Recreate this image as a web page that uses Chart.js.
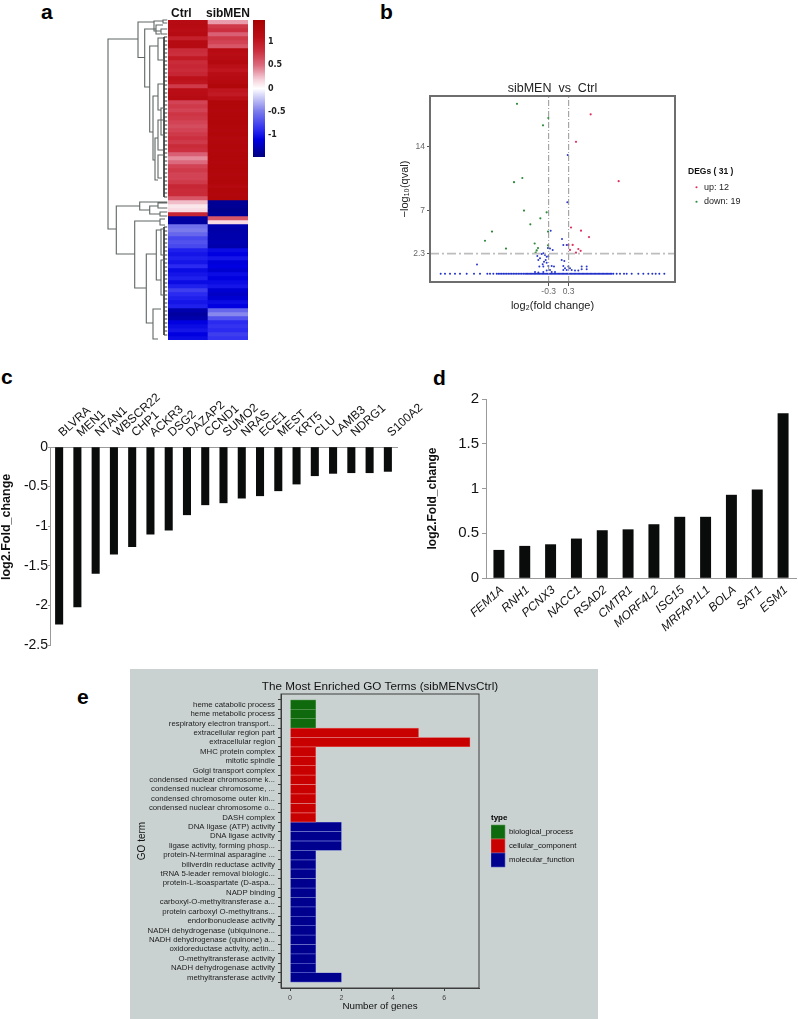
<!DOCTYPE html>
<html><head><meta charset="utf-8">
<script src="https://cdn.jsdelivr.net/npm/chart.js@4"></script>
<style>
html,body{margin:0;padding:0;background:#fff;width:798px;height:1019px;overflow:hidden}
#root{position:relative;width:798px;height:1019px}
canvas{position:absolute;display:block;filter:blur(.35px)}
.tag{position:absolute;font:bold 21px "Liberation Sans",sans-serif;color:#000;line-height:21px}
#goBg{position:absolute;left:130px;top:669px;width:468px;height:350px;background:#cad2d1}
</style></head><body><div id="root"><div id="goBg"></div>
<div class="tag" style="left:41px;top:1px">a</div>
<div class="tag" style="left:380px;top:1px">b</div>
<div class="tag" style="left:1px;top:366px">c</div>
<div class="tag" style="left:433px;top:367px">d</div>
<div class="tag" style="left:77px;top:686px">e</div>
</div>
<script>
// ---------- panel a
const heatCols=['Ctrl','sibMEN'];
const heatCtrl=[1.2,1.2,1.15,1.2,.95,1.2,1.2,.85,.82,1.0,.85,.88,.85,.9,1.08,1.05,.75,1.12,1.15,1.2,.7,.75,.7,.78,.75,.7,.65,.7,.75,.8,.75,.85,.8,.55,.4,.5,.7,.75,.7,.7,.75,.88,.85,.85,.6,.25,.1,.15,.9,-1.35,-1.35,-.55,-.5,-.6,-.75,-.7,-.75,-.95,-1.0,-.95,-1.0,-.9,-1.05,-1.0,-.95,-1.05,-.95,-.8,-.9,-.95,-1.0,-.95,-1.3,-1.35,-1.3,-1.1,-1.05,-1.0,-1.1,-1.05];
const heatSib=[.35,.75,.8,.55,.75,.7,.6,1.2,1.15,1.2,1.25,1.1,1.05,1.15,1.2,1.25,1.3,1.05,1.0,1.1,1.3,1.3,1.28,1.3,1.3,1.32,1.3,1.28,1.3,1.26,1.28,1.3,1.28,1.3,1.3,1.28,1.3,1.3,1.28,1.3,1.3,1.25,1.3,1.28,1.3,-1.4,-1.4,-1.42,-1.4,.6,.15,-1.3,-1.32,-1.3,-1.3,-1.28,-1.3,-1.05,-1.1,-1.0,-1.12,-1.1,-1.15,-1.05,-1.1,-1.05,-1.0,-1.15,-1.2,-1.15,-1.05,-1.1,-.6,-.45,-.7,-.9,-.85,-.9,-.8,-.85];
const cbRange=[-1.48,1.48];
const cbTicks=[1,.5,0,-.5,-1];
const dendBrackets=[[0,19,209,30,8.3],[30,2,37.5,46,36.7],[46,1,11,55,53],[55,0,3,59.3,59.3],[53,9,14,59.3,59.3],[36.7,9,67,48,41.7],[48,5,14,55,52],[41.7,26,112,50,45],[50,18,40,55,56],[45,76,140,50,47],[50,64,90,55,53],[53,88,115,57,56],[47,118,160,50,50],[50,135,158,56,54],[50,100,130,55,55],[8.3,186,234,31.7,26.7],[31.7,182,190,59.3,41.7],[41.7,186,194,50,52],[50,183,188,59.3,59.3],[52,192,196,59.3,59.3],[26.7,201,268,52,38.3],[52,199,205,57,57],[38.3,234,303,48.3,45],[48.3,210,260,53,53],[45,289,319,53,50],[53,209,235,57,57],[53,240,275,57,57]];
const dendLeaves=[17,21,25,29,33,37,41,45,49,53,57,61,65,69,73,77,81,85,89,93,97,101,105,109,113,117,121,125,129,133,137,141,145,149,153,157,161,165,169,173,177,207,211,215,219,223,227,231,235,239,243,247,251,255,259,263,267,271,275,279,283,287,291,295,299,303,307,311,315];
// ---------- panel b
const upPts=[[.96,17.5],[.52,14.5],[1.80,10.2],[.37,5.15],[.67,4.8],[.91,4.1],[.29,3.25],[.42,3.25],[.34,2.7],[.59,2.8],[.66,2.6],[.52,2.4]];
const downPts=[[-1.25,18.65],[-.31,17.1],[-.47,16.3],[-1.09,10.55],[-1.34,10.1],[-1.04,7.0],[-.36,6.8],[-.55,6.15],[-.85,5.5],[-.32,4.7],[-2.0,4.7],[-2.21,3.7],[-1.58,2.85],[-.72,3.4],[-.62,2.9],[-.66,2.65],[-.69,2.4],[-.32,3.2],[-.31,2.9]];
const nsPts=[[.27,13.05],[.26,7.9],[-.24,4.8],[.10,3.9],[.14,3.25],[.24,3.25],[-.32,2.9],[-.26,2.85],[-.18,2.7],[-2.45,1.1],[-.46,2.35],[-.51,2.25],[-.41,2.15],[-.64,2.05],[-.56,1.8],[-.61,1.6],[-.36,1.95],[-.31,2.0],[-.39,1.6],[-.44,1.4],[-.36,1.3],[-.48,1.15],[-.58,.9],[-.46,.9],[-.31,.95],[-.21,.95],[-.14,.9],[-.71,.3],[-.61,.25],[-.46,.3],[-.36,.45],[-.26,.5],[-.21,.3],[-.11,.3],[.09,1.6],[.17,1.5],[.14,.95],[.19,.7],[.29,.9],[.34,.7],[.14,.5],[.24,.5],[.39,.5],[.49,.45],[.69,.9],[.84,.9],[.84,.6],[.69,.6],[.59,.45]];
const nsBaseX=[-3.54,-3.41,-3.26,-3.11,-2.96,-2.76,-2.54,-2.36,-2.14,-2.06,-1.96,-1.86,-1.81,-1.76,-1.71,-1.66,-1.61,-1.56,-1.51,-1.46,-1.41,-1.36,-1.31,-1.26,-1.21,-1.16,-1.11,-1.06,-1.01,-.97,-.93,-.89,-.85,-.81,-.77,-.73,-.69,-.65,-.61,-.57,-.53,-.49,-.45,-.41,-.37,-.33,-.29,-.25,-.21,-.17,-.13,-.09,-.05,-.01,.03,.07,.11,.15,.19,.23,.27,.31,.35,.39,.43,.47,.51,.55,.59,.63,.67,.71,.75,.79,.83,.87,.91,.95,.99,1.03,1.07,1.11,1.15,1.19,1.23,1.27,1.31,1.35,1.39,1.43,1.47,1.51,1.55,1.59,1.64,1.74,1.84,1.96,2.04,2.19,2.39,2.54,2.69,2.81,2.91,3.02,3.17];
const nsBaseY=[.1];
const volcXTicks=[-.3,.3];
const volcYTicks=[2.3,7,14];
const qThreshold=[2.3];
// ---------- panel c
const downGenes=['BLVRA','MEN1','NTAN1','WBSCR22','CHP1','ACKR3','DSG2','DAZAP2','CCND1','SUMO2','NRAS','ECE1','MEST','KRT5','CLU','LAMB3','NDRG1','','S100A2'];
const downFC=[-2.236,-2.02,-1.595,-1.354,-1.257,-1.10,-1.05,-.856,-.73,-.705,-.646,-.616,-.553,-.468,-.363,-.333,-.325,-.325,-.308];
// ---------- panel d
const upGenes=['FEM1A','RNH1','PCNX3','NACC1','RSAD2','CMTR1','MORF4L2','ISG15','MRFAP1L1','BOLA','SAT1','ESM1'];
const upFC=[.31,.355,.373,.437,.53,.54,.597,.68,.68,.926,.985,1.836];
// ---------- panel e
const goBP=['heme catabolic process','heme metabolic process','respiratory electron transport...'];
const goBPn=[1,1,1];
const goCC=['extracellular region part','extracellular region','MHC protein complex','mitotic spindle','Golgi transport complex','condensed nuclear chromosome k...','condensed nuclear chromosome, ...','condensed chromosome outer kin...','condensed nuclear chromosome o...','DASH complex'];
const goCCn=[5,7,1,1,1,1,1,1,1,1];
const goMF=['DNA ligase (ATP) activity','DNA ligase activity','ligase activity, forming phosp...','protein-N-terminal asparagine ...','biliverdin reductase activity','tRNA 5-leader removal biologic...','protein-L-isoaspartate (D-aspa...','NADP binding','carboxyl-O-methyltransferase a...','protein carboxyl O-methyltrans...','endoribonuclease activity','NADH dehydrogenase (ubiquinone...','NADH dehydrogenase (quinone) a...','oxidoreductase activity, actin...','O-methyltransferase activity','NADH dehydrogenase activity','methyltransferase activity'];
const goMFn=[2,2,2,1,1,1,1,1,1,1,1,1,1,1,1,1,2];
const goXTicks=[0,2,4,6];

Chart.defaults.font.family='"Liberation Sans",Arimo,Helvetica,Arial,sans-serif';
Chart.defaults.animation=false;
Chart.defaults.responsive=false;
Chart.defaults.maintainAspectRatio=false;
Chart.defaults.devicePixelRatio=1;
Chart.defaults.plugins.legend.display=false;
Chart.defaults.plugins.tooltip.enabled=false;

const root=document.getElementById('root');
function mk(left,top,w,h,cfg){
  const c=document.createElement('canvas');c.width=w;c.height=h;
  c.style.left=left+'px';c.style.top=top+'px';c.style.width=w+'px';c.style.height=h+'px';
  root.appendChild(c);return new Chart(c,cfg);
}
const zero=s=>{s.paddingLeft=s.paddingRight=s.paddingTop=s.paddingBottom=0};
const fixW=w=>s=>{s.width=w;zero(s)};
const fixH=h=>s=>{s.height=h;zero(s)};
const frame=color=>({id:'frame',afterDatasetsDraw(c){const a=c.chartArea,x=c.ctx;x.save();x.strokeStyle=color.c;x.lineWidth=color.w;x.strokeRect(a.left,a.top,a.right-a.left,a.bottom-a.top);x.restore();}});
const placeLegend={id:'placeLegend',afterLayout(c,_a,o){const L=c.legend;if(!L||o.x===undefined)return;L.left=o.x;L.top=o.y;L.right=o.x+o.w;L.bottom=o.y+o.h;L.width=o.w;L.height=o.h;}};
const widenTitle={id:'widenTitle',afterLayout(c,_a,o){const T=c.titleBlock;if(!T||!o.by)return;T.left-=o.by;T.right+=o.by;T.width+=2*o.by;}};

// colour map
const stops=[[-1.48,[0,0,128]],[-1.1,[0,0,224]],[-.9,[42,42,240]],[-.5,[122,122,236]],[0,[255,255,255]],[.2,[245,206,216]],[.5,[220,106,126]],[.8,[204,48,64]],[1.1,[187,15,24]],[1.48,[168,0,0]]];
function col(v){
  for(let i=1;i<stops.length;i++){if(v<=stops[i][0]){const a=stops[i-1],b=stops[i],t=Math.max(0,(v-a[0])/(b[0]-a[0]));
    return 'rgb('+a[1].map((q,k)=>Math.round(q+(b[1][k]-q)*t)).join(',')+')';}}
  return 'rgb(168,0,0)';
}
// --- a: dendrogram
const dendPts=[];
dendBrackets.forEach(b=>{dendPts.push({x:b[3],y:b[1]},{x:b[0],y:b[1]},{x:b[0],y:b[2]},{x:b[4],y:b[2]},{x:NaN,y:NaN});});
const leafPts=[];
dendLeaves.forEach((y,i)=>{leafPts.push({x:59.3,y:y},{x:56,y:y},{x:56,y:dendLeaves[i+1]!==undefined&&dendLeaves[i+1]-y<8?dendLeaves[i+1]:y},{x:NaN,y:NaN});});
mk(106,19,64,322,{type:'scatter',data:{datasets:[
  {data:dendPts,showLine:true,spanGaps:false,borderColor:'#5e6664',borderWidth:1.1,pointRadius:0,clip:false},
  {data:leafPts,showLine:true,spanGaps:false,borderColor:'#3a3f3e',borderWidth:1,pointRadius:0,clip:false}]},
  options:{layout:{padding:{left:2,right:2,top:1,bottom:1}},scales:{x:{type:'linear',min:0,max:60,display:false},y:{type:'linear',min:0,max:320,reverse:true,display:false}}}});
// --- a: heat
const heatSets=heatCtrl.map((v,i)=>({data:[1,1],backgroundColor:[col(v),col(heatSib[i])],barPercentage:1,categoryPercentage:1,borderWidth:0}));
const heatChart=mk(148,0,110,340,{type:'bar',data:{labels:heatCols,datasets:heatSets},options:{
  layout:{padding:{left:20,right:10,top:0,bottom:0}},
  scales:{x:{stacked:true,position:'top',afterFit:fixH(20),border:{display:false},grid:{display:false,drawTicks:false},
      ticks:{padding:-1,maxRotation:0,minRotation:0,autoSkip:false,color:'#111',font:{size:12,weight:'bold'},callback:(v,i)=>i===0?heatCols[0]+'    ':heatCols[i]}},
    y:{stacked:true,min:0,max:80,reverse:true,display:false}}}});
heatChart.canvas.style.filter='blur(.6px)';
// --- a: colour bar
mk(253,20,50,137,{type:'bar',data:{labels:['scale'],datasets:[{data:[cbRange],barPercentage:1,categoryPercentage:1,borderWidth:0,
   backgroundColor:c=>{const a=c.chart.chartArea;if(!a)return '#fff';const g=c.chart.ctx.createLinearGradient(0,a.bottom,0,a.top);stops.forEach(s=>g.addColorStop((s[0]-stops[0][0])/(stops[stops.length-1][0]-stops[0][0]),'rgb('+s[1].join(',')+')'));return g;}}]},
  options:{layout:{padding:0},scales:{x:{display:false},
   y:{position:'right',min:cbRange[0],max:cbRange[1],afterFit:fixW(38),afterBuildTicks:s=>{s.ticks=cbTicks.map(v=>({value:v}))},border:{display:false},grid:{display:false,drawTicks:false},
      ticks:{padding:3,autoSkip:false,color:'#222',font:{family:'"DejaVu Sans"',size:8,weight:'bold'},callback:v=>String(v)}}}}});
// --- b
const vline=x=>({type:'line',data:[{x:x,y:-.8},{x:x,y:19.5}],borderColor:'#8a8a8a',borderWidth:.9,borderDash:[6,2,1,2],pointRadius:0,label:'x'});
mk(395,78,403,240,{type:'scatter',data:{datasets:[
   {type:'line',label:'threshold',data:[{x:-3.86,y:qThreshold[0]},{x:3.49,y:qThreshold[0]}],borderColor:'#bdbdbd',borderWidth:1.6,borderDash:[9,3,2,3],pointRadius:0},
   vline(volcXTicks[0]),vline(volcXTicks[1]),
   {label:'baseline',data:nsBaseX.map(x=>({x:x,y:nsBaseY[0]})),backgroundColor:'#2030c8',pointRadius:1,borderWidth:0},
   {label:'ns',data:nsPts.map(p=>({x:p[0],y:p[1]})),backgroundColor:'#2a3acb',pointRadius:1,borderWidth:0},
   {label:'up: 12',data:upPts.map(p=>({x:p[0],y:p[1]})),backgroundColor:'#e0305f',pointStyle:'circle',pointRadius:1.1,borderWidth:0},
   {label:'down: 19',data:downPts.map(p=>({x:p[0],y:p[1]})),backgroundColor:'#2f8a3c',pointStyle:'circle',pointRadius:1.1,borderWidth:0}]},
  options:{layout:{padding:{left:0,right:123,top:0,bottom:0}},
   plugins:{title:{display:true,fullSize:false,text:'sibMEN  vs  Ctrl',color:'#222',font:{size:12.5,weight:'normal',lineHeight:'14px'},padding:{top:4,bottom:0}},
     legend:{display:true,position:'chartArea',align:'start',
       title:{display:true,position:'start',text:'DEGs ( 31 )',color:'#111',font:{size:8.5,weight:'bold'},padding:{top:0,bottom:0}},
       labels:{usePointStyle:true,boxWidth:6,boxHeight:1.5,padding:5.5,color:'#222',font:{size:9},filter:i=>i.text==='up: 12'||i.text==='down: 19'}},
     placeLegend:{x:293,y:89,w:105,h:60}},
   scales:{x:{type:'linear',min:-3.86,max:3.49,afterFit:fixH(36),afterBuildTicks:s=>{s.ticks=volcXTicks.map(v=>({value:v}))},border:{color:'#777',width:1},
        grid:{display:true,drawOnChartArea:false,tickLength:4,color:'#555'},
        ticks:{padding:1,autoSkip:false,maxRotation:0,color:'#666',font:{size:8.5},callback:v=>String(v)},
        title:{display:true,text:'log₂(fold change)',color:'#222',font:{size:11,lineHeight:'13px'},padding:{top:0,bottom:6}}},
     y:{type:'linear',min:-.8,max:19.5,afterFit:fixW(35),afterBuildTicks:s=>{s.ticks=volcYTicks.map(v=>({value:v}))},border:{color:'#777',width:1},
        grid:{display:true,drawOnChartArea:false,tickLength:3,color:'#555'},
        ticks:{padding:2,autoSkip:false,color:'#666',font:{size:8.5},callback:v=>String(v)},
        title:{display:true,text:'−log₁₀(qval)',color:'#222',font:{size:11,lineHeight:'13px'},padding:{top:3,bottom:0}}}}},
  plugins:[frame({c:'#6e6e6e',w:2}),placeLegend]});
// --- c
mk(0,375,440,280,{type:'bar',data:{labels:downGenes,datasets:[{data:downFC,backgroundColor:'#0a0c0b',barThickness:7.4,borderWidth:0}]},
  options:{layout:{padding:{left:0,right:43,top:0,bottom:10}},
   scales:{x:{position:'top',afterFit:fixH(72),border:{color:'#9a9a9a'},grid:{display:false,drawTicks:false},
        ticks:{padding:7,labelOffset:11,autoSkip:false,minRotation:42,maxRotation:42,color:'#111',font:{size:12}}},
     y:{min:-2.5,max:0,afterFit:fixW(50),afterBuildTicks:s=>{s.ticks=[0,-.5,-1,-1.5,-2,-2.5].map(v=>({value:v}))},border:{color:'#9a9a9a'},
        grid:{display:true,drawOnChartArea:false,tickLength:2,color:'#9a9a9a'},
        ticks:{padding:0,autoSkip:false,color:'#111',font:{size:14},callback:v=>String(v)},
        title:{display:true,text:' '.repeat(11)+'log2.Fold_change',color:'#111',font:{size:12.5,weight:'bold',lineHeight:'14px'},padding:{top:0,bottom:0}}}}}});
// --- d
mk(425,390,373,280,{type:'bar',data:{labels:upGenes,datasets:[{data:upFC,backgroundColor:'#0a0c0b',barThickness:10.3,borderWidth:0}]},
  options:{layout:{padding:{left:0,right:2,top:9,bottom:0}},
   scales:{x:{afterFit:fixH(92),border:{color:'#9a9a9a'},grid:{display:false,drawTicks:false},
        ticks:{padding:5,labelOffset:3,autoSkip:false,minRotation:42,maxRotation:42,color:'#111',font:{size:12,style:'italic'}}},
     y:{min:0,max:2,afterFit:fixW(61),afterBuildTicks:s=>{s.ticks=[0,.5,1,1.5,2].map(v=>({value:v}))},border:{color:'#9a9a9a'},
        grid:{display:true,drawOnChartArea:false,tickLength:4,color:'#9a9a9a'},
        ticks:{padding:3,autoSkip:false,color:'#111',font:{size:15},callback:v=>String(v)},
        title:{display:true,text:'log2.Fold_change'+' '.repeat(6),color:'#111',font:{size:12,weight:'bold',lineHeight:'14px'},padding:{top:1,bottom:0}}}}}});
// --- e
const goTerms=goBP.concat(goCC,goMF);
const goSet=(label,vals,off,fill,edge)=>({label:label,data:vals.map((v,i)=>({x:v,y:off+i})),backgroundColor:fill,borderColor:edge,borderWidth:.6,barThickness:9.2,grouped:false});
mk(130,669,468,350,{type:'bar',data:{datasets:[
    goSet('biological_process',goBPn,0,'#0f6a0d','#5f9a5a'),
    goSet('cellular_component',goCCn,goBP.length,'#c80000','#e86a6a'),
    goSet('molecular_function',goMFn,goBP.length+goCC.length,'#00008f','#5a62c8')]},
  options:{indexAxis:'y',layout:{padding:{left:0,right:119,top:0,bottom:0}},
   plugins:{title:{display:true,fullSize:false,text:'The Most Enriched GO Terms (sibMENvsCtrl)',color:'#111',font:{size:11.7,weight:'normal',lineHeight:'14px'},padding:{top:11,bottom:0}},
     widenTitle:{by:30},
     legend:{display:true,position:'chartArea',align:'start',
       title:{display:true,position:'start',text:'type',color:'#000',font:{size:8,weight:'bold',lineHeight:'10px'},padding:{top:0,bottom:1}},
       labels:{boxWidth:14,boxHeight:14,padding:0,color:'#111',font:{size:7.8}}},
     placeLegend:{x:361,y:145,w:107,h:60}},
   scales:{x:{type:'linear',min:-.35,max:7.35,afterFit:fixH(31),afterBuildTicks:s=>{s.ticks=goXTicks.map(v=>({value:v}))},border:{color:'#3c3c3c',width:1},
        grid:{display:true,drawOnChartArea:false,tickLength:3,color:'#3c3c3c'},
        ticks:{padding:3,autoSkip:false,maxRotation:0,color:'#444',font:{size:7},callback:v=>String(v)},
        title:{display:true,text:'Number of genes',color:'#111',font:{size:9.8,lineHeight:'12px'},padding:{top:0,bottom:7}}},
     y:{type:'linear',min:-.6,max:29.6,reverse:true,afterFit:fixW(151),afterBuildTicks:s=>{s.ticks=goTerms.map((_,i)=>({value:i}))},border:{color:'#3c3c3c',width:1},
        grid:{display:true,drawOnChartArea:false,tickLength:3,color:'#3c3c3c'},
        ticks:{padding:3,autoSkip:false,color:'#222',font:{size:7.8},callback:v=>goTerms[v]},
        title:{display:true,text:'GO term',color:'#111',font:{size:10,lineHeight:'12px'},padding:{top:6.7,bottom:0}}}}},
  plugins:[frame({c:'#3c3c3c',w:1}),placeLegend,widenTitle]});
</script></body></html>
